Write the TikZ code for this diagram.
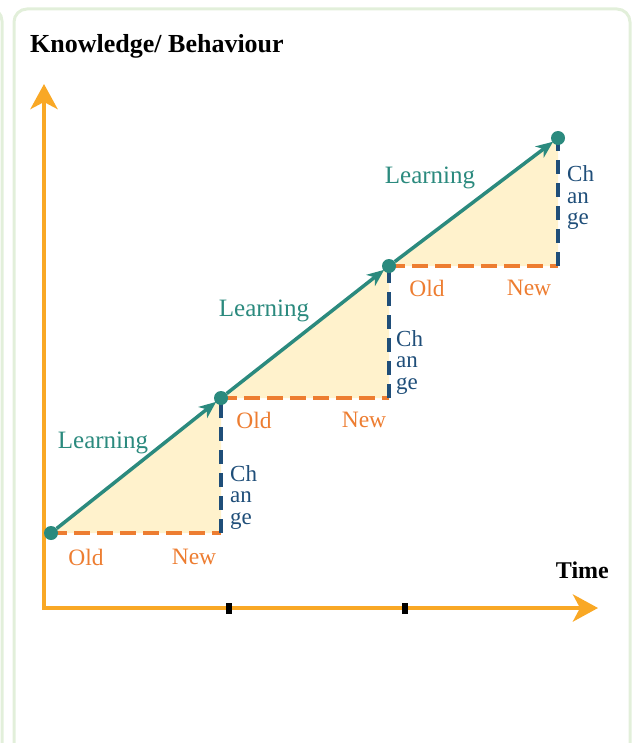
\documentclass[tikz,border=0pt]{standalone}
\usepackage{fontspec}
\setmainfont{Liberation Serif}
\usetikzlibrary{arrows.meta}
\definecolor{learncol}{HTML}{2B8A7E}
\definecolor{axiscol}{HTML}{F9A825}
\definecolor{oldcol}{HTML}{ED7D31}
\definecolor{chgcol}{HTML}{1F4E79}
\definecolor{tricol}{HTML}{FFF2CC}
\definecolor{framecol}{HTML}{E2EFDA}
\tikzset{
 dot/.style={circle,fill=learncol,minimum size=14pt,inner sep=0pt},
 learn/.style={learncol,line width=3.5pt,-{Stealth[length=17pt,width=14pt,inset=5pt]},shorten >=-1pt},
 oldnew/.style={oldcol,line width=3.5pt,dash pattern=on 16pt off 7pt},
 chg/.style={chgcol,line width=3.5pt,dash pattern=on 14pt off 9pt},
 lbl/.style={font=\fontsize{25}{25}\selectfont,inner sep=0pt},
 onlbl/.style={oldcol,font=\fontsize{23.5}{23.5}\selectfont,inner sep=0pt},
 chlbl/.style={chgcol,font=\fontsize{23}{21.5}\selectfont,align=left,inner sep=0pt,anchor=west},
 tickmark/.style={fill=black,minimum width=6pt,minimum height=11pt,inner sep=0pt}
}
\begin{document}
\begin{tikzpicture}[x=1pt,y=-1pt]
 \path[use as bounding box,clip] (0,0) rectangle (632,743);
 % panel frames
 \draw[framecol,line width=3pt,rounded corners=13pt] (-400,8) rectangle (2,780);
 \draw[framecol,line width=3pt,rounded corners=13pt] (14,9) rectangle (630,780);
 % points
 \coordinate (p0) at (51,533);
 \coordinate (p1) at (221,398);
 \coordinate (p2) at (389,266);
 \coordinate (p3) at (558,138);
 \coordinate (c1) at (p1 |- p0);
 \coordinate (c2) at (p2 |- p1);
 \coordinate (c3) at (p3 |- p2);
 \foreach \a/\b/\c in {p0/c1/p1,p1/c2/p2,p2/c3/p3}
  \fill[tricol] (\a) -- (\b) -- (\c) -- cycle;
 % axes
 \coordinate (o) at (44,608);
 \coordinate (ytip) at (44,84);
 \coordinate (xtip) at (598,608);
 \draw[axiscol,line width=4.5pt,line join=miter,{Stealth[length=25pt,width=27pt,inset=7pt]}-{Stealth[length=25pt,width=27pt,inset=7pt]}] (ytip) -- (o) -- (xtip);
 \node[tickmark] (t1) at (229,608) {};
 \node[tickmark] (t2) at (405,608) {};
 \node[font=\bfseries\fontsize{26}{26}\selectfont,anchor=west,inner sep=0pt] (ylab) at (30,46) {Knowledge/ Behaviour};
 \node[font=\bfseries\fontsize{24}{24}\selectfont,anchor=east,inner sep=0pt] (xlab) at (609,570) {Time};
 % steps
 \foreach \a/\b/\c in {p0/c1/p1,p1/c2/p2,p2/c3/p3}{
  \draw[oldnew] (\a) -- (\b);
  \draw[chg] (\b) -- (\c);
 }
 \foreach \p in {0,1,2,3}
  \node[dot] (d\p) at (p\p) {};
 \draw[learn] (d0) -- (d1);
 \draw[learn] (d1) -- (d2);
 \draw[learn] (d2) -- (d3);
 % labels
 \node[lbl,learncol] (l1) at (103,443) {Learning};
 \node[lbl,learncol] (l2) at (264,311) {Learning};
 \node[lbl,learncol] (l3) at (430,178) {Learning};
 \node[onlbl] (o1) at (86,557) {Old};
 \node[onlbl] (n1) at (194,557) {New};
 \node[onlbl] (o2) at (254,420) {Old};
 \node[onlbl] (n2) at (364,420) {New};
 \node[onlbl] (o3) at (427,288) {Old};
 \node[onlbl] (n3) at (529,288) {New};
 \node[chlbl] (ch1) at (230,497) {Ch\\an\\ge};
 \node[chlbl] (ch2) at (396,362) {Ch\\an\\ge};
 \node[chlbl] (ch3) at (567,198) {Ch\\an\\ge};
\end{tikzpicture}
\end{document}
